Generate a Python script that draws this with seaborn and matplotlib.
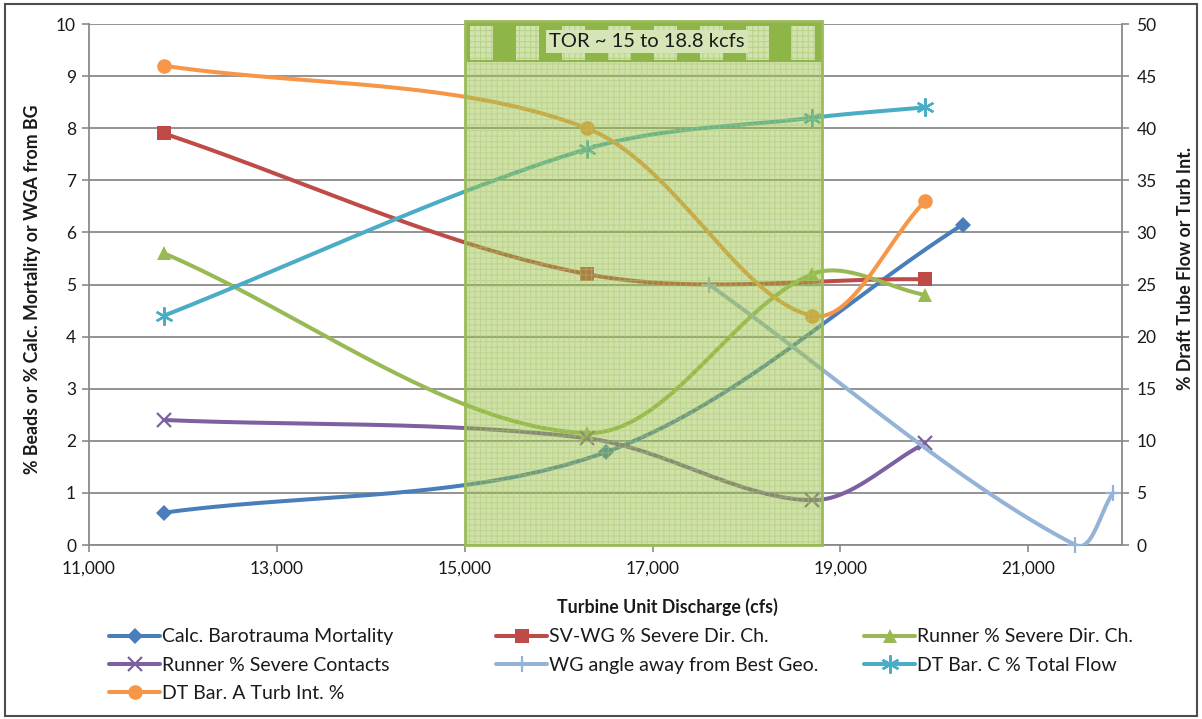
import numpy as np
import pandas as pd
import matplotlib
matplotlib.use("Agg")
import matplotlib.pyplot as plt
import matplotlib.transforms as mtransforms
from matplotlib.lines import Line2D
from matplotlib.patches import Rectangle
import seaborn as sns

# ---- data -------------------------------------------------------------
baro_x = [11800, 16500, 20300]
baro_y = [0.62, 1.78, 6.15]                 # left axis

svwg_x = [11800, 16300, 19900]
svwg_y = [7.9, 5.2, 5.1]                    # left axis

rdir_x = [11800, 16300, 18700, 19900]
rdir_y = [5.6, 2.15, 5.2, 4.8]              # left axis

rcon_x = [11800, 16300, 18700, 19900]
rcon_y = [2.4, 2.05, 0.86, 1.95]            # left axis

wga_x = [17600, 21500, 21900]
wga_y = [25, 0, 5]                          # right axis

dtc_x = [11800, 16300, 18700, 19900]
dtc_y = [22, 38, 41, 42]                    # right axis

dta_x = [11800, 16300, 18700, 19900]
dta_y = [46, 40, 22, 33]                    # right axis

tor_lo, tor_hi = 15000, 18800
x_ticks = [11000, 13000, 15000, 17000, 19000, 21000]

# ---- style ------------------------------------------------------------
sns.set_theme(style="white")
plt.rcParams["font.family"] = ["Lato", "DejaVu Sans"]
plt.rcParams["hatch.linewidth"] = 0.8

GRID = "#8a8a8a"
TXT = "#1a1a1a"

fig = plt.figure(figsize=(12.02, 7.19), dpi=100)
ax = fig.add_axes([0.0737, 0.242, 0.8601, 0.7246])
ax2 = ax.twinx()
ax.set_xlim(11000, 22000)
ax.set_ylim(0, 10)
ax2.set_ylim(0, 50)


def smooth_curve(x, y, a, n=80):
    """Bezier smoothing through every point, built in screen space with
    tangents scaled to the neighbouring segment lengths."""
    tr = a.transData
    p = tr.transform(np.column_stack([x, y]).astype(float))
    m = len(p)
    seglen = np.hypot(*np.diff(p, axis=0).T)
    tang = []
    for i in range(m):
        prev_p = p[i - 1] if i > 0 else p[i]
        next_p = p[i + 1] if i < m - 1 else p[i]
        tang.append(next_p - prev_p)
    t = np.linspace(0, 1, n)[1:, None]
    out = [p[:1]]
    for i in range(m - 1):
        L = seglen[i]
        Lp = seglen[i - 1] if i > 0 else 0.0
        Ln = seglen[i + 1] if i + 1 < m - 1 else 0.0
        c1 = p[i] + tang[i] / 6.0 * (2 * L / (Lp + L))
        c2 = p[i + 1] - tang[i + 1] / 6.0 * (2 * L / (Ln + L))
        seg = ((1 - t) ** 3) * p[i] + 3 * ((1 - t) ** 2) * t * c1 \
            + 3 * (1 - t) * t ** 2 * c2 + t ** 3 * p[i + 1]
        out.append(seg)
    pts = tr.inverted().transform(np.vstack(out))
    return pd.DataFrame({"x": pts[:, 0], "y": pts[:, 1]})


series = [
    # label, x, y, axis, colour, marker, marker size, edge width
    ("Calc. Barotrauma Mortality", baro_x, baro_y, ax, "#4A7EBB", "D", 8.5, 0),
    ("SV-WG % Severe Dir. Ch.", svwg_x, svwg_y, ax, "#BE4B48", "s", 10, 0),
    ("Runner % Severe Dir. Ch.", rdir_x, rdir_y, ax, "#98B954", "^", 10, 0),
    ("Runner % Severe Contacts", rcon_x, rcon_y, ax, "#7D60A0", "x", 10, 1.6),
    ("WG angle away from Best Geo.", wga_x, wga_y, ax2, "#95B3D7", "+", 12, 1.6),
    ("DT Bar. C % Total Flow", dtc_x, dtc_y, ax2, "#4BACC6", (6, 2, 0), 13, 1.7),
    ("DT Bar. A Turb Int. %", dta_x, dta_y, ax2, "#F79646", "o", 10.5, 0),
]

handles = []
for label, xs, ys, a, col, mk, ms, mew in series:
    curve = smooth_curve(xs, ys, a)
    sns.lineplot(data=curve, x="x", y="y", ax=a, sort=False, estimator=None,
                 color=col, linewidth=2.9, zorder=2, legend=False)
    a.plot(xs, ys, linestyle="none", marker=mk, markersize=ms, color=col,
           markeredgecolor=col, markeredgewidth=mew, zorder=3, clip_on=False)
    handles.append(Line2D([], [], color=col, linewidth=2.9, marker=mk,
                          markersize=ms, markeredgecolor=col,
                          markeredgewidth=mew, label=label))

# ---- axes -------------------------------------------------------------
ax.set_xlim(11000, 22000)
ax.set_ylim(0, 10)
ax2.set_ylim(0, 50)
ax.set_xticks(x_ticks)
ax.set_xticklabels([f"{v:,}" for v in x_ticks])
ax.set_yticks(range(0, 11))
ax2.set_yticks(range(0, 51, 5))

ax.yaxis.grid(True, color=GRID, linewidth=1.3)
ax.xaxis.grid(False)
ax.set_axisbelow(True)

ax.spines["top"].set_visible(False)
ax.spines["right"].set_visible(False)
for s in ("top", "left", "bottom"):
    ax2.spines[s].set_visible(False)
for s in ("left", "bottom"):
    ax.spines[s].set_color(GRID)
    ax.spines[s].set_linewidth(1.3)
ax2.spines["right"].set_color(GRID)
ax2.spines["right"].set_linewidth(1.3)

ax.tick_params(axis="both", direction="out", length=5, width=1.2, color=GRID,
               labelsize=12.5, labelcolor=TXT, pad=4)
ax.tick_params(axis="x", pad=6)
ax2.tick_params(axis="y", direction="out", length=5, width=1.2, color=GRID,
                labelsize=12.5, labelcolor=TXT, pad=5)
ax.tick_params(left=True, bottom=True)
ax2.tick_params(right=True)

ax.set_xlabel("Turbine Unit Discharge (cfs)", fontsize=12.8, fontweight="bold",
              color=TXT)
ax.xaxis.set_label_coords(0.56, -0.102)
ax.set_ylabel("% Beads or % Calc. Mortality or WGA from BG", fontsize=12.8,
              fontweight="bold", color=TXT)
ax.yaxis.set_label_coords(-0.046, 0.49)
ax2.set_ylabel("% Draft Tube Flow or Turb Int.", fontsize=12.8,
               fontweight="bold", color=TXT, rotation=90)
ax2.yaxis.set_label_coords(1.053, 0.53)

# ---- TOR operating range box -----------------------------------------
tr = mtransforms.blended_transform_factory(ax2.transData, ax2.transAxes)
w = tor_hi - tor_lo
top = 1.005
band = 0.927
ax2.add_patch(Rectangle((tor_lo, 0), w, top, transform=tr, facecolor="#97BE3E",
                        alpha=0.45, edgecolor="none", zorder=5, clip_on=False))
ax2.add_patch(Rectangle((tor_lo, 0), w, top, transform=tr, facecolor="none",
                        edgecolor="#A8C871", hatch="+++", linewidth=0,
                        alpha=0.45, zorder=5.1, clip_on=False))
# header band with checker squares
ax2.add_patch(Rectangle((tor_lo, band), w, top - band, transform=tr,
                        facecolor="#8DB547", edgecolor="none", zorder=5.2,
                        clip_on=False))
sq_w = w * 0.0645
for x0 in np.linspace(tor_lo + w * 0.016, tor_hi - w * 0.02 - sq_w, 8):
    ax2.add_patch(Rectangle((x0, band + 0.004), sq_w, top - band - 0.012,
                            transform=tr, facecolor="#D3E3B0", edgecolor="#B9D38A",
                            hatch="+++", linewidth=0, zorder=5.3, clip_on=False))
ax2.add_patch(Rectangle((tor_lo, 0), w, top, transform=tr, facecolor="none",
                        edgecolor="#9BBB59", linewidth=2.0, zorder=5.5,
                        clip_on=False))
ax2.text((tor_lo + tor_hi) / 2 + 40, (band + top) / 2, "TOR ~ 15 to 18.8 kcfs",
         transform=tr, ha="center", va="center", fontsize=14.5, color=TXT,
         zorder=6, bbox=dict(boxstyle="square,pad=0.15", facecolor="#D6E5B6",
                             edgecolor="none"))

# ---- legend (three columns, filled row by row) -----------------------
cols = [[0, 3, 6], [1, 4], [2, 5]]
col_x = [0.091, 0.413, 0.719]
for cx, idx in zip(col_x, cols):
    fig.legend(handles=[handles[i] for i in idx], loc="upper left",
               bbox_to_anchor=(cx, 0.126), frameon=False,
               fontsize=14, handlelength=2.6, handletextpad=0.1,
               labelspacing=0.58, borderaxespad=0, borderpad=0,
               labelcolor=TXT)

# outer frame
fig.add_artist(Rectangle((0.004, 0.004), 0.992, 0.990, transform=fig.transFigure,
                         facecolor="none", edgecolor="#4d4d4d", linewidth=1.5))

fig.savefig("out.png", dpi=100)
